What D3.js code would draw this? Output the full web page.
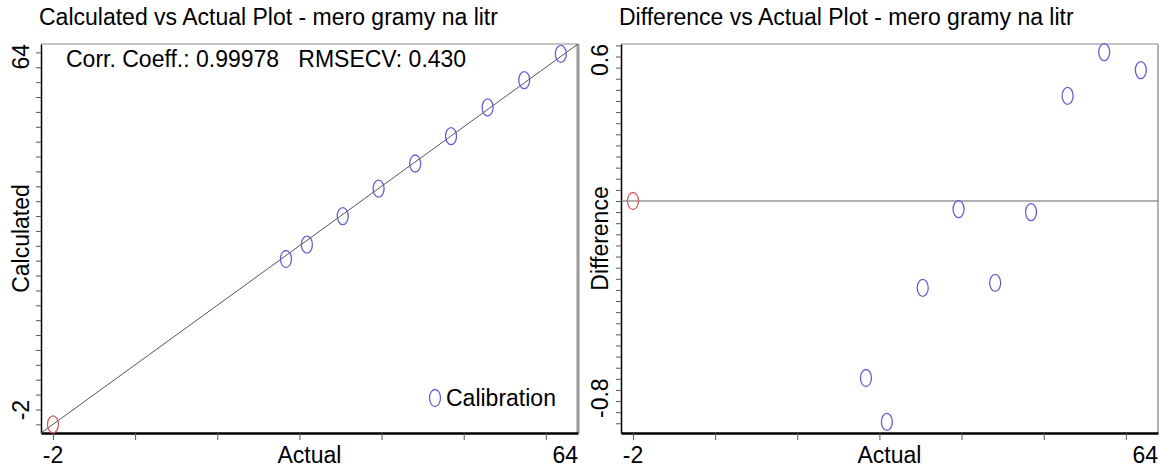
<!DOCTYPE html>
<html>
<head>
<meta charset="utf-8">
<script src="https://cdn.jsdelivr.net/npm/d3@7"></script>
<style>
  body { margin: 0; background: #fff; }
  svg { display: block; font-family: "Liberation Sans", Arial, sans-serif; }
  text { white-space: pre; }
  .tick line { stroke: #555; }
</style>
</head>
<body>
<div id="chart"></div>
<script>
// DATA
// actual concentrations (calibration standards)
var actual = [29.2, 32.0, 36.8, 41.6, 46.5, 51.3, 56.2, 61.1, 66.0];
var calculated = [28.56, 31.21, 36.49, 41.57, 46.21, 51.26, 56.58, 61.64, 66.47];
var difference = [-0.637, -0.795, -0.313, -0.029, -0.295, -0.040, 0.378, 0.536, 0.471];
// the red (excluded) sample
var otherActual = [-2];
var otherCalculated = [-2];
var otherDifference = [0];
// axis end labels and tick values
var xTicks = [-2, 9, 20, 31, 42, 53, 64];
var xEndLabels = ["-2", "64"];
var calcTicks = [-2, 0.75, 3.5, 6.25, 9, 11.75, 14.5, 17.25, 20, 22.75, 25.5, 28.25, 31, 33.75, 36.5, 39.25, 42, 44.75, 47.5, 50.25, 53, 55.75, 58.5, 61.25, 64, 66.75];
var calcEndLabels = ["-2", "64"];
var diffTicks = d3.range(-20, 15).map(function (i) { return +(i * 0.04).toFixed(2); });
var diffEndLabels = ["-0.8", "0.6"];
var stats = "Corr. Coeff.: 0.99978   RMSECV: 0.430";

var W = 1161, H = 470;
var blue = "#6161cf", red = "#d65c5c";

var svg = d3.select("#chart").append("svg")
  .attr("width", W).attr("height", H);

// panel geometry
var left = {x0: 41, x1: 578, y0: 44, y1: 433};
var right = {x0: 621, x1: 1158, y0: 44, y1: 433};

var xL = d3.scaleLinear().domain([-3.6, 68.3]).range([left.x0, left.x1]);
var yL = d3.scaleLinear().domain([-3.6, 68.3]).range([left.y1, left.y0]);
var xR = d3.scaleLinear().domain([-3.6, 68.3]).range([right.x0, right.x1]);
var yR = d3.scaleLinear().domain([-0.835, 0.565]).range([right.y1, right.y0]);

function frame(p, rightWidth) {
  // top and right border in grey
  svg.append("line").attr("x1", p.x0).attr("x2", p.x1).attr("y1", p.y0).attr("y2", p.y0)
    .attr("stroke", "#8a8a8a").attr("stroke-width", 1.2);
  svg.append("line").attr("x1", p.x1).attr("x2", p.x1).attr("y1", p.y0).attr("y2", p.y1)
    .attr("stroke", "#9a9a9a").attr("stroke-width", rightWidth);
}

function axes(p, x, y, yTicks) {
  var gx = svg.append("g").attr("transform", "translate(0," + p.y1 + ")")
    .call(d3.axisBottom(x).tickValues(xTicks).tickSize(7).tickSizeOuter(0).tickFormat(""));
  gx.select(".domain").attr("stroke", "#000").attr("stroke-width", 2.5);
  var gy = svg.append("g").attr("transform", "translate(" + p.x0 + ",0)")
    .call(d3.axisLeft(y).tickValues(yTicks).tickSize(5).tickSizeOuter(0).tickFormat(""));
  gy.select(".domain").attr("stroke", "#000").attr("stroke-width", 1.5);
}

function label(x, y, txt, anchor, rot) {
  var t = svg.append("text").attr("font-size", 23).attr("fill", "#000")
    .attr("text-anchor", anchor || "start").text(txt);
  if (rot) t.attr("transform", "translate(" + x + "," + y + ") rotate(-90)");
  else t.attr("x", x).attr("y", y);
  return t;
}

function marker(cx, cy, color) {
  svg.append("ellipse").attr("cx", cx).attr("cy", cy).attr("rx", 5.5).attr("ry", 8.5)
    .attr("fill", "none").attr("stroke", color).attr("stroke-width", 1.3);
}

// LEFT PANEL: calculated vs actual
frame(left, 3);
axes(left, xL, yL, calcTicks);
svg.append("line")
  .attr("x1", xL(-3.6)).attr("y1", yL(-3.6)).attr("x2", xL(68.3)).attr("y2", yL(68.3))
  .attr("stroke", "#555").attr("stroke-width", 1);
actual.forEach(function (a, i) { marker(xL(a), yL(calculated[i]), blue); });
otherActual.forEach(function (a, i) { marker(xL(a), yL(otherCalculated[i]), red); });

label(39, 25, "Calculated vs Actual Plot - mero gramy na litr");
label(66, 67, stats);
label(29, (left.y0 + left.y1) / 2, "Calculated", "middle", true);
label(29, left.y0, calcEndLabels[1], "end", true);
label(29, yL(-2) - 4, calcEndLabels[0], "start", true);
label(xL(-2), 463, xEndLabels[0], "middle");
label(left.x1, 463, xEndLabels[1], "end");
label((left.x0 + left.x1) / 2, 463, "Actual", "middle");
// legend
marker(435, 398, blue);
label(446, 406, "Calibration");

// RIGHT PANEL: difference vs actual
frame(right, 1.5);
axes(right, xR, yR, diffTicks);
svg.append("line")
  .attr("x1", xR(-3.6)).attr("y1", yR(0)).attr("x2", xR(68.3)).attr("y2", yR(0))
  .attr("stroke", "#666").attr("stroke-width", 1);
actual.forEach(function (a, i) { marker(xR(a), yR(difference[i]), blue); });
otherActual.forEach(function (a, i) { marker(xR(a), yR(otherDifference[i]), red); });

label(619, 25, "Difference vs Actual Plot - mero gramy na litr");
label(608, (right.y0 + right.y1) / 2, "Difference", "middle", true);
label(608, right.y0, diffEndLabels[1], "end", true);
label(608, right.y1 - 15, diffEndLabels[0], "start", true);
label(xR(-2), 463, xEndLabels[0], "middle");
label(right.x1, 463, xEndLabels[1], "end");
label((right.x0 + right.x1) / 2, 463, "Actual", "middle");
</script>
</body>
</html>
